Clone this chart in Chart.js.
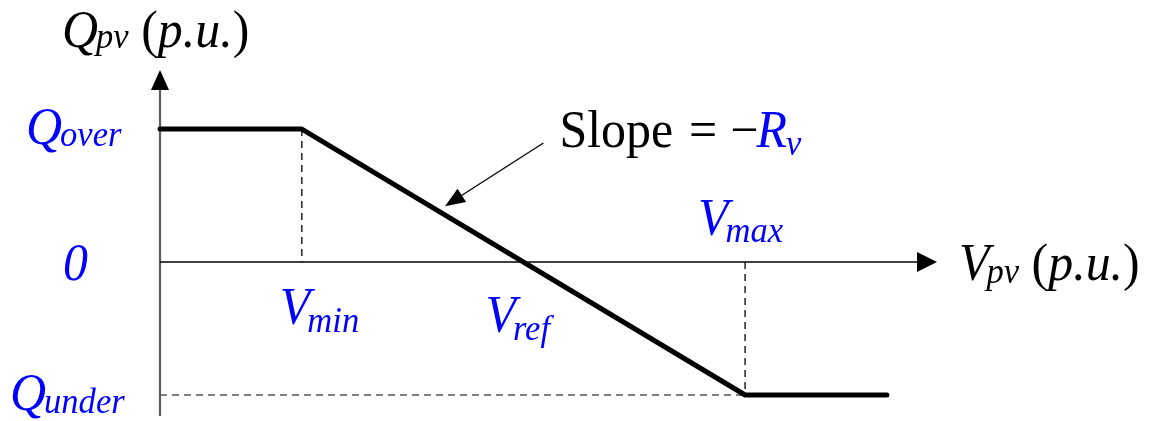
<!DOCTYPE html>
<html>
<head>
<meta charset="utf-8">
<script src="https://cdn.jsdelivr.net/npm/chart.js@4/dist/chart.umd.min.js"></script>
<style>
  html, body { margin: 0; padding: 0; background: #fff; }
  canvas { display: block; }
</style>
</head>
<body>
<canvas id="droopChart" width="1150" height="421"></canvas>
<script>
// volt-var droop curve (voltage in p.u., reactive power normalised)
const V_POINTS = [0.918, 0.95, 1.05, 1.082];
const Q_POINTS = [1, 1, -1, -1];

const V_MIN = 0.95;
const V_REF = 1.0;
const V_MAX = 1.05;
const Q_OVER = 1;
const Q_UNDER = -1;

const X_RANGE = [0.918, 1.0933];
const Y_RANGE = [-1.158, 1.444];

// callout arrow for the slope text
const SLOPE_ARROW_FROM = [1.0045, 0.895];
const SLOPE_ARROW_TO = [0.9823, 0.42];

const SERIF = '"Liberation Serif", "Times New Roman", serif';
const BIG = '52px ' + SERIF;
const BIG_IT = 'italic 52px ' + SERIF;
const SUB_IT = 'italic 36px ' + SERIF;
const SQUEEZE = 0.96;
const BLUE = '#0000ff';
const BLACK = '#000000';

const toXY = (xs, ys) => xs.map((v, i) => ({x: v, y: ys[i]}));

// draws a run of text pieces (base + subscripts) with a slightly narrowed serif
function drawParts(ctx, x, y, parts) {
    ctx.save();
    ctx.translate(x, y);
    ctx.scale(SQUEEZE, 1);
    let cx = 0;
    parts.forEach(p => {
        ctx.font = p.font;
        ctx.fillStyle = p.color || BLACK;
        ctx.fillText(p.text, cx, p.dy || 0);
        cx += ctx.measureText(p.text).width + (p.dx || 0) / SQUEEZE;
    });
    ctx.restore();
}

function arrowHead(ctx, tipX, tipY, fromX, fromY, len, half) {
    const a = Math.atan2(tipY - fromY, tipX - fromX);
    ctx.beginPath();
    ctx.moveTo(tipX, tipY);
    ctx.lineTo(tipX - len * Math.cos(a) + half * Math.sin(a), tipY - len * Math.sin(a) - half * Math.cos(a));
    ctx.lineTo(tipX - len * Math.cos(a) - half * Math.sin(a), tipY - len * Math.sin(a) + half * Math.cos(a));
    ctx.closePath();
    ctx.fill();
}

const axesPlugin = {
    id: 'axes',
    beforeDatasetsDraw(chart) {
        const {ctx, chartArea, scales: {y}} = chart;
        const y0 = y.getPixelForValue(0);
        const left = chartArea.left;
        ctx.save();
        // vertical axis
        ctx.strokeStyle = '#5e5e5e';
        ctx.lineWidth = 2.2;
        ctx.beginPath();
        ctx.moveTo(left, chartArea.bottom);
        ctx.lineTo(left, chartArea.top + 18);
        ctx.stroke();
        ctx.fillStyle = BLACK;
        arrowHead(ctx, left, chartArea.top, left, chartArea.bottom, 20, 9);
        // horizontal axis
        ctx.strokeStyle = BLACK;
        ctx.lineWidth = 1.5;
        ctx.beginPath();
        ctx.moveTo(left, y0);
        ctx.lineTo(chartArea.right - 18, y0);
        ctx.stroke();
        arrowHead(ctx, chartArea.right, y0, left, y0, 20, 10);
        ctx.restore();
    }
};

const labelPlugin = {
    id: 'labels',
    afterDraw(chart) {
        const {ctx, chartArea, scales: {x, y}} = chart;
        const left = chartArea.left;
        const y0 = y.getPixelForValue(0);
        ctx.save();
        ctx.textBaseline = 'alphabetic';
        ctx.textAlign = 'left';

        // axis titles
        drawParts(ctx, left - 98, chartArea.top - 23, [
            {text: 'Q', font: BIG_IT, dx: -2},
            {text: 'pv', font: SUB_IT, dy: 1},
            {text: ' (', font: BIG},
            {text: 'p.u.', font: BIG_IT},
            {text: ')', font: BIG}
        ]);
        drawParts(ctx, chartArea.right + 22, y0 + 18, [
            {text: 'V', font: BIG_IT, dx: -3},
            {text: 'pv', font: SUB_IT, dy: 3},
            {text: ' (', font: BIG},
            {text: 'p.u.', font: BIG_IT},
            {text: ')', font: BIG}
        ]);

        // level labels on the Q axis
        drawParts(ctx, left - 134, y.getPixelForValue(Q_OVER) + 15, [
            {text: 'Q', font: BIG_IT, color: BLUE, dx: -2},
            {text: 'over', font: SUB_IT, color: BLUE, dy: 2}
        ]);
        drawParts(ctx, left - 97, y0 + 18, [
            {text: '0', font: BIG_IT, color: BLUE}
        ]);
        drawParts(ctx, left - 150, y.getPixelForValue(Q_UNDER) + 15, [
            {text: 'Q', font: BIG_IT, color: BLUE, dx: -2},
            {text: 'under', font: SUB_IT, color: BLUE, dy: 3}
        ]);

        // voltage thresholds
        drawParts(ctx, x.getPixelForValue(V_MIN) - 22, y0 + 62, [
            {text: 'V', font: BIG_IT, color: BLUE, dx: -3},
            {text: 'min', font: SUB_IT, color: BLUE, dy: 8}
        ]);
        drawParts(ctx, x.getPixelForValue(V_REF) - 38, y0 + 70, [
            {text: 'V', font: BIG_IT, color: BLUE, dx: -3},
            {text: 'ref', font: SUB_IT, color: BLUE, dy: 8}
        ]);
        drawParts(ctx, x.getPixelForValue(V_MAX) - 47, y0 - 27, [
            {text: 'V', font: BIG_IT, color: BLUE, dx: -3},
            {text: 'max', font: SUB_IT, color: BLUE, dy: 7}
        ]);

        // slope callout
        const fx = x.getPixelForValue(SLOPE_ARROW_FROM[0]);
        const fy = y.getPixelForValue(SLOPE_ARROW_FROM[1]);
        const tx = x.getPixelForValue(SLOPE_ARROW_TO[0]);
        const ty = y.getPixelForValue(SLOPE_ARROW_TO[1]);
        ctx.strokeStyle = BLACK;
        ctx.fillStyle = BLACK;
        ctx.lineWidth = 1.3;
        ctx.beginPath();
        ctx.moveTo(fx, fy);
        const a = Math.atan2(ty - fy, tx - fx);
        ctx.lineTo(tx - 15 * Math.cos(a), ty - 15 * Math.sin(a));
        ctx.stroke();
        arrowHead(ctx, tx, ty, fx, fy, 20, 8);
        drawParts(ctx, fx + 16, fy + 4, [
            {text: 'Slope', font: BIG, dx: 16},
            {text: '=', font: BIG, dx: 13},
            {text: '\u2212', font: BIG, dx: -2},
            {text: 'R', font: BIG_IT, color: BLUE, dx: -1},
            {text: 'v', font: SUB_IT, color: BLUE, dy: 8}
        ]);
        ctx.restore();
    }
};

const lineStyle = {showLine: true, pointRadius: 0, fill: false, clip: false, tension: 0};

new Chart(document.getElementById('droopChart'), {
    type: 'scatter',
    data: {
        datasets: [
            Object.assign({}, lineStyle, {
                data: toXY(V_POINTS, Q_POINTS),
                borderColor: BLACK,
                borderWidth: 5,
                borderCapStyle: 'round',
                borderJoinStyle: 'round'
            }),
            Object.assign({}, lineStyle, {
                data: toXY([V_MIN, V_MIN], [Q_OVER, 0]),
                borderColor: BLACK,
                borderWidth: 1.3,
                borderDash: [7, 5]
            }),
            Object.assign({}, lineStyle, {
                data: toXY([V_MAX, V_MAX], [0, Q_UNDER]),
                borderColor: BLACK,
                borderWidth: 1.3,
                borderDash: [7, 5]
            }),
            Object.assign({}, lineStyle, {
                data: toXY([X_RANGE[0], V_MAX], [Q_UNDER, Q_UNDER]),
                borderColor: '#555555',
                borderWidth: 1.5,
                borderDash: [7, 5]
            })
        ]
    },
    options: {
        responsive: false,
        animation: false,
        devicePixelRatio: 1,
        layout: {padding: {left: 160, right: 213, top: 70, bottom: 5}},
        scales: {
            x: {type: 'linear', min: X_RANGE[0], max: X_RANGE[1], display: false},
            y: {type: 'linear', min: Y_RANGE[0], max: Y_RANGE[1], display: false}
        },
        plugins: {
            legend: {display: false},
            tooltip: {enabled: false}
        },
        events: []
    },
    plugins: [axesPlugin, labelPlugin]
});
</script>
</body>
</html>
